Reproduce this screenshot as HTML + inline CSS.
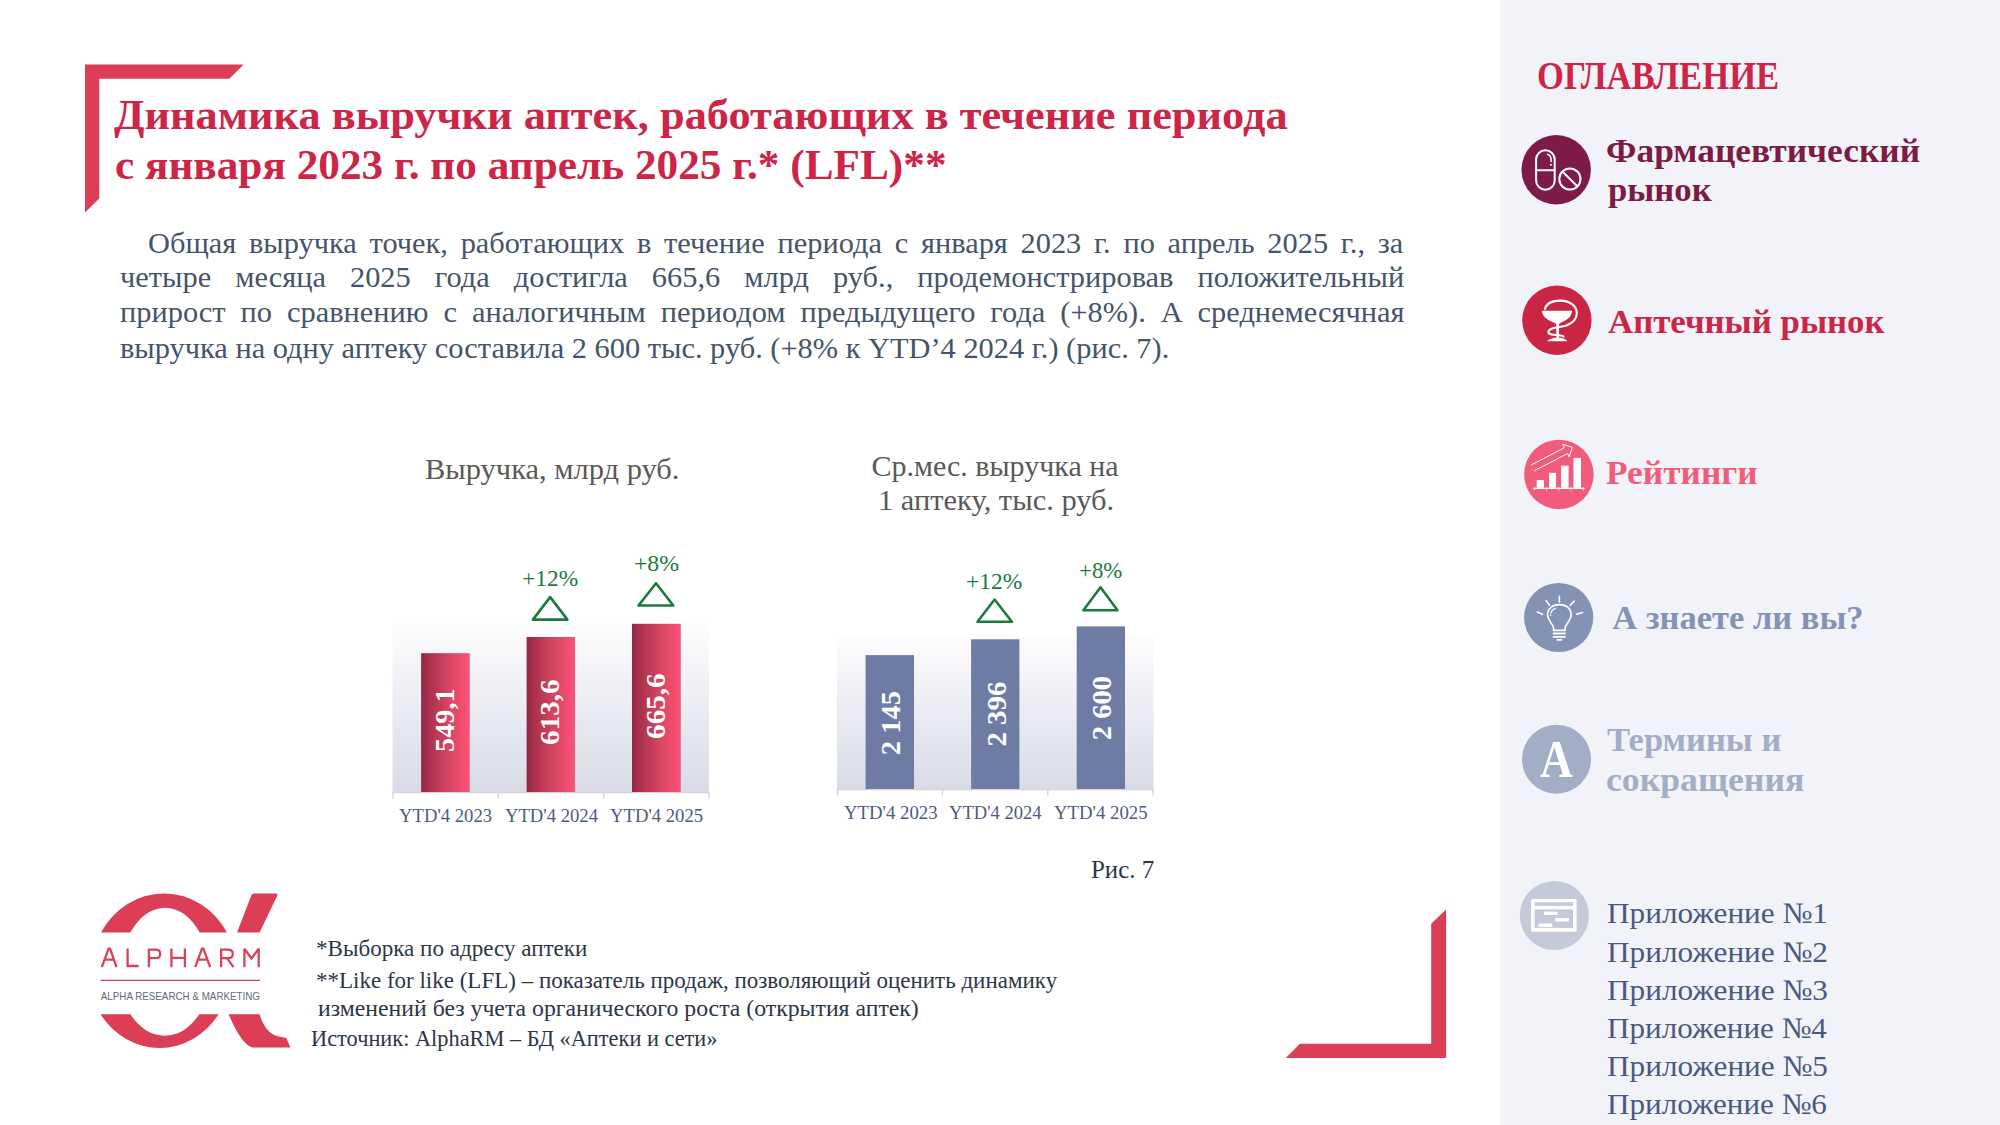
<!DOCTYPE html>
<html><head><meta charset="utf-8"><style>
html,body{margin:0;padding:0;background:#fff;overflow:hidden;}
body{width:2000px;height:1125px;position:relative;overflow:hidden;font-family:"Liberation Serif",serif;}
.t{position:absolute;white-space:pre;transform-origin:0 0;}
svg.bg{position:absolute;left:0;top:0;}
</style></head><body>
<svg class="bg" width="2000" height="1125" viewBox="0 0 2000 1125">
<defs>
 <linearGradient id="plotg" x1="0" y1="0" x2="0" y2="1">
  <stop offset="0" stop-color="#FEFEFF"/>
  <stop offset="0.12" stop-color="#F9F9FB"/>
  <stop offset="1" stop-color="#D8DBE7"/>
 </linearGradient>
 <linearGradient id="barg" x1="0" y1="0" x2="1" y2="0">
  <stop offset="0" stop-color="#932844"/>
  <stop offset="0.3" stop-color="#B93851"/>
  <stop offset="0.6" stop-color="#DA4764"/>
  <stop offset="0.93" stop-color="#F84F75"/>
  <stop offset="1" stop-color="#EC5E7C"/>
 </linearGradient>
</defs>
<!-- sidebar -->
<rect x="1500" y="0" width="500" height="1125" fill="#F2F3F8"/>
<!-- brackets -->
<polygon points="85,64.5 243.6,64.5 229.4,78.8 99.3,78.8 99.3,198.5 85,212.5" fill="#DC3F55"/>
<polygon points="1446.1,909.5 1446.1,1057.9 1285.7,1057.9 1300,1043.8 1431.2,1043.8 1431.2,923.8" fill="#DC3F55"/>
<!-- chart 1 -->
<rect x="392.5" y="622" width="316.5" height="170.5" fill="url(#plotg)"/>
<rect x="421.1" y="653.2" width="48.7" height="139" fill="url(#barg)"/>
<rect x="526.6" y="637" width="48.5" height="155.2" fill="url(#barg)"/>
<rect x="632" y="623.8" width="48.8" height="168.4" fill="url(#barg)"/>
<g stroke="#D4D4D4" stroke-width="1.4" fill="none">
 <line x1="392.5" y1="792.6" x2="709.5" y2="792.6"/>
 <line x1="393" y1="792" x2="393" y2="798.5"/>
 <line x1="498.2" y1="792" x2="498.2" y2="798.5"/>
 <line x1="603.8" y1="792" x2="603.8" y2="798.5"/>
 <line x1="709" y1="792" x2="709" y2="798.5"/>
</g>
<g stroke="#1B7A3E" stroke-width="2.6" fill="none" stroke-linejoin="round">
 <polygon points="550.2,597.1 567.4,619.6 532.9,619.6"/>
 <polygon points="656,583.3 673.3,605.5 638.5,605.5"/>
 <polygon points="994.6,599.5 1011.9,621.8 977.5,621.8"/>
 <polygon points="1100.5,587.3 1117.5,610.3 1083.4,610.3"/>
</g>
<!-- chart 2 -->
<rect x="837" y="634" width="316.5" height="155.5" fill="url(#plotg)"/>
<g fill="#6E7CA5">
 <rect x="865.6" y="655.1" width="48.4" height="133.9"/>
 <rect x="971.1" y="639.3" width="48.3" height="149.7"/>
 <rect x="1076.7" y="626.4" width="48.3" height="162.6"/>
</g>
<g stroke="#D4D4D4" stroke-width="1.4" fill="none">
 <line x1="837" y1="789.6" x2="1153.6" y2="789.6"/>
 <line x1="837.5" y1="789" x2="837.5" y2="795.5"/>
 <line x1="942.5" y1="789" x2="942.5" y2="795.5"/>
 <line x1="1047.8" y1="789" x2="1047.8" y2="795.5"/>
 <line x1="1153.2" y1="789" x2="1153.2" y2="795.5"/>
</g>
<!-- icon 1: pills -->
<circle cx="1556.2" cy="169.8" r="34.7" fill="#7D1A45"/>
<g stroke="#fff" stroke-width="2" fill="none" stroke-linecap="round">
 <rect x="1536.1" y="150.3" width="18.6" height="39.5" rx="9.3" ry="9.3"/>
 <line x1="1536.1" y1="170.2" x2="1554.7" y2="170.2"/>
 <path d="M1547.6,154.2 Q1551.1,155.6 1551.1,159.8 L1551.1,161.4" stroke-width="1.5"/>
 <circle cx="1569.9" cy="179" r="10.6"/>
 <line x1="1562.6" y1="171.8" x2="1577.3" y2="186.2"/>
</g>
<circle cx="1550.9" cy="164.8" r="1" fill="#fff"/>
<!-- icon 2: bowl -->
<circle cx="1556.9" cy="320.2" r="34.7" fill="#CB2544"/>
<g transform="translate(1518,282)">
 <path d="M23.8,28.8 L54.1,28.8 C53.6,35.5 47.5,38.5 43.2,40.6 L41,42 L41,56 L38.3,56 L38.3,42 L35.6,40.6 C31.2,38.5 24.3,35.5 23.8,28.8 Z" fill="#fff"/>
 <path d="M28.8,59.2 Q31.5,56.4 36.5,55.8 L42.5,55.8 Q47.5,56.4 49.4,59.2 Z" fill="#fff"/>
 <path d="M26.9,27 C28.5,21 35.5,18.6 42.7,18.6 C51.5,18.8 58.8,23.6 58.8,31.3 C58.8,37.5 54.5,41.2 48.5,43.4 C43.5,45.2 37,45 33,47 C29.4,48.8 29.6,51.8 33.5,52.5 C38.5,53.3 43.8,52.8 45.6,54.6" stroke="#fff" stroke-width="2.1" fill="none" stroke-linecap="round"/>
</g>
<!-- icon 3: ratings -->
<circle cx="1558.9" cy="474.4" r="34.75" fill="#F15C7B"/>
<g fill="#fff">
 <rect x="1536.7" y="480.1" width="7.3" height="7.8"/>
 <rect x="1549" y="472.8" width="7.1" height="15.1"/>
 <rect x="1561.1" y="465.7" width="7.5" height="22.2"/>
 <rect x="1573.5" y="457.9" width="7.5" height="30"/>
</g>
<g stroke="#fff" fill="none" stroke-linecap="round">
 <line x1="1533.9" y1="488.4" x2="1584" y2="488.4" stroke-width="1.3"/>
 <path d="M1534.2,487.8 V490 M1546.5,487.8 V490 M1558.8,487.8 V490 M1571,487.8 V490 M1583.6,487.8 V490" stroke-width="1"/>
 <polyline points="1531.4,464.8 1564.2,447.9 1562.7,444.2 1572.3,447.4 1569.1,457 1567.6,453.5 1534.2,470.8" stroke-width="1" stroke-linejoin="miter"/>
</g>
<!-- icon 4: bulb -->
<circle cx="1558.7" cy="617.5" r="34.6" fill="#8493B3"/>
<g transform="translate(1520,578)" stroke="#fff" fill="none" stroke-linecap="round">
 <path d="M33.6,49.8 C33,46 28.2,43 27.6,37.7 C27,31 32.5,26.6 39.4,26.6 C46.3,26.6 51.7,31 51.1,37.7 C50.6,43 45.6,46 45,49.8 L45,52.4 L33.6,52.4 Z" stroke-width="1.6"/>
 <path d="M33.6,55.5 H45 M33.6,58.9 H45" stroke-width="1.9"/>
 <path d="M37.2,61.9 H41.5" stroke-width="1.6"/>
 <path d="M39.4,18.3 V24 M26.1,22.8 L29.4,27 M54.3,23 L50.2,27.2 M17.3,34 L22.5,36.3 M62.4,34.5 L56.6,36.3" stroke-width="1.6"/>
 <path d="M30.9,35 Q31.8,31.6 35.4,30.5" stroke-width="1.3"/>
</g>
<circle cx="1550.6" cy="615.3" r="0.8" fill="#fff"/>
<!-- icon 5: A -->
<circle cx="1556.5" cy="759.2" r="34.5" fill="#A2ADC6"/>
<!-- icon 6: appendix -->
<circle cx="1554.4" cy="915.5" r="34.6" fill="#C5CADB"/>
<g transform="translate(1514,876)">
 <rect x="17.1" y="22.9" width="45.5" height="32.9" rx="1.5" fill="#fff"/>
 <rect x="20.6" y="26.2" width="38.4" height="3.7" fill="#C5CADB"/>
 <rect x="20.6" y="33.4" width="38.4" height="18.5" fill="#C5CADB"/>
 <rect x="29.9" y="35.6" width="13.6" height="3.4" fill="#fff"/>
 <rect x="41.3" y="42" width="13.8" height="3.5" fill="#fff"/>
 <rect x="24.5" y="47.5" width="13.7" height="3.4" fill="#fff"/>
</g>
<!-- logo -->
<g fill="#DC3F55">
 <path d="M101,932.5 A72.5,77.3 0 0 1 227,932.5 L199.7,932.5 A44,64.2 0 0 0 130.4,932.5 Z"/>
 <path d="M218.6,1014.2 A71.4,77.3 0 0 1 100.5,1014.2 L130.4,1014.2 A46,64.2 0 0 0 199.2,1014.2 Z"/>
 <path d="M253.5,893.4 L276,893.4 Q278.2,893.6 277.3,895.6 L259.6,932.5 L237,932.5 L251.5,895 Q252.2,893.5 253.5,893.4 Z"/>
 <path d="M228.6,1014.2 L259.6,1014.2 C262.5,1024 268,1034.5 279,1036.5 L286.3,1038 L290.5,1047.5 L252,1047.5 C244,1045 235.5,1031 228.6,1014.2 Z"/>
</g>
<g stroke="#D8425A" stroke-width="2.3" fill="none" stroke-linejoin="miter" stroke-miterlimit="2">
 <path d="M101.8,967.2 L108.6,948.6 H110 L116.6,967.2 M104.3,959.6 H114.3"/>
 <path d="M127.6,948.5 V966 H138.6"/>
 <path d="M148.9,967.2 V949.6 H155.5 Q160.2,949.6 160.2,953.9 Q160.2,958.2 155.5,958.2 H148.9"/>
 <path d="M171.4,948.5 V967.2 M184.9,948.5 V967.2 M171.4,957.8 H184.9"/>
 <path d="M195.2,967.2 L202,948.6 H203.4 L210.2,967.2 M197.7,959.6 H207.7"/>
 <path d="M221.1,967.2 V949.6 H227.8 Q232.8,949.6 232.8,953.9 Q232.8,958.2 227.8,958.2 H221.1 M227,958.2 L233.5,967.2"/>
 <path d="M244.4,967.2 V948.8 L251.5,958.5 L258.7,948.8 V967.2"/>
</g>
<line x1="100.8" y1="980.4" x2="260" y2="980.4" stroke="#DC3F55" stroke-width="1.3"/>
<text x="100.8" y="1000.3" font-family="Liberation Sans" font-size="10.6" fill="#5F687C" textLength="159.2" lengthAdjust="spacingAndGlyphs">ALPHA RESEARCH &amp; MARKETING</text>
</svg>

<div class=t style="left:114.40px;top:92.60px;font-size:43px;line-height:43px;color:#CC2547;font-weight:700;transform:scaleX(1.0313);">Динамика выручки аптек, работающих в течение периода</div>
<div class=t style="left:114.99px;top:142.60px;font-size:43px;line-height:43px;color:#CC2547;font-weight:700;transform:scaleX(1.0061);">с января 2023 г. по апрель 2025 г.* (LFL)**</div>
<div class=t style="left:147.95px;top:228.60px;font-size:29px;line-height:29px;color:#44546A;transform:scaleX(1.0478);word-spacing:4.89px;">Общая выручка точек, работающих в течение периода с января 2023 г. по апрель 2025 г., за</div>
<div class=t style="left:119.60px;top:263.30px;font-size:29px;line-height:29px;color:#44546A;transform:scaleX(1.0478);word-spacing:15.71px;">четыре месяца 2025 года достигла 665,6 млрд руб., продемонстрировав положительный</div>
<div class=t style="left:119.60px;top:298.40px;font-size:29px;line-height:29px;color:#44546A;transform:scaleX(1.0478);word-spacing:7.04px;">прирост по сравнению с аналогичным периодом предыдущего года (+8%). А среднемесячная</div>
<div class=t style="left:119.60px;top:333.60px;font-size:29px;line-height:29px;color:#44546A;transform:scaleX(1.0478);">выручка на одну аптеку составила 2 600 тыс. руб. (+8% к YTD’4 2024 г.) (рис. 7).</div>
<div class=t style="left:424.68px;top:454.10px;font-size:30px;line-height:30px;color:#595959;transform:scaleX(1.0153);">Выручка, млрд руб.</div>
<div class=t style="left:871.40px;top:450.80px;font-size:30px;line-height:30px;color:#595959;">Ср.мес. выручка на</div>
<div class=t style="left:877.97px;top:484.80px;font-size:30px;line-height:30px;color:#595959;transform:scaleX(1.0153);">1 аптеку, тыс. руб.</div>
<div class=t style="left:521.78px;top:567.20px;font-size:23px;line-height:23px;color:#1B7A3E;transform:scaleX(1.0185);">+12%</div>
<div class=t style="left:633.67px;top:552.40px;font-size:23px;line-height:23px;color:#1B7A3E;transform:scaleX(1.0310);">+8%</div>
<div class=t style="left:965.98px;top:570.30px;font-size:23px;line-height:23px;color:#1B7A3E;transform:scaleX(1.0185);">+12%</div>
<div class=t style="left:1079.01px;top:559.40px;font-size:23px;line-height:23px;color:#1B7A3E;transform:scaleX(0.9929);">+8%</div>
<div class=t style="left:399.00px;top:805.70px;font-size:19px;line-height:19px;color:#4E5B80;transform:scaleX(0.9830);">YTD'4 2023</div>
<div class=t style="left:504.60px;top:805.70px;font-size:19px;line-height:19px;color:#4E5B80;transform:scaleX(0.9821);">YTD'4 2024</div>
<div class=t style="left:609.80px;top:805.70px;font-size:19px;line-height:19px;color:#4E5B80;transform:scaleX(0.9830);">YTD'4 2025</div>
<div class=t style="left:843.50px;top:803.00px;font-size:19px;line-height:19px;color:#4E5B80;transform:scaleX(0.9883);">YTD'4 2023</div>
<div class=t style="left:948.80px;top:803.00px;font-size:19px;line-height:19px;color:#4E5B80;transform:scaleX(0.9779);">YTD'4 2024</div>
<div class=t style="left:1054.10px;top:803.00px;font-size:19px;line-height:19px;color:#4E5B80;transform:scaleX(0.9883);">YTD'4 2025</div>
<div class=t style="left:1090.54px;top:856.80px;font-size:26px;line-height:26px;color:#2C3648;transform:scaleX(0.9585);">Рис. 7</div>
<div class=t style="left:316.00px;top:936.80px;font-size:23px;line-height:23px;color:#2C3648;transform:scaleX(1.0026);">*Выборка по адресу аптеки</div>
<div class=t style="left:316.00px;top:969.20px;font-size:23px;line-height:23px;color:#2C3648;">**Like for like (LFL) – показатель продаж, позволяющий оценить динамику</div>
<div class=t style="left:317.50px;top:996.50px;font-size:23px;line-height:23px;color:#2C3648;transform:scaleX(1.0325);">изменений без учета органического роста (открытия аптек)</div>
<div class=t style="left:311.23px;top:1026.80px;font-size:23px;line-height:23px;color:#2C3648;transform:scaleX(0.9719);">Источник: AlphaRM – БД «Аптеки и сети»</div>
<div class=t style="left:1537.07px;top:55.75px;font-size:40px;line-height:40px;color:#CC2547;font-weight:700;transform:scaleX(0.8656);">ОГЛАВЛЕНИЕ</div>
<div class=t style="left:1606.47px;top:133.00px;font-size:34.5px;line-height:34.5px;color:#7D1B44;font-weight:700;transform:scaleX(1.0266);">Фармацевтический</div>
<div class=t style="left:1607.50px;top:172.40px;font-size:34.5px;line-height:34.5px;color:#7D1B44;font-weight:700;transform:scaleX(1.0049);">рынок</div>
<div class=t style="left:1607.50px;top:304.00px;font-size:34.5px;line-height:34.5px;color:#CC2547;font-weight:700;transform:scaleX(1.0091);">Аптечный рынок</div>
<div class=t style="left:1606.40px;top:455.10px;font-size:34.5px;line-height:34.5px;color:#F05C7B;font-weight:700;transform:scaleX(1.0243);">Рейтинги</div>
<div class=t style="left:1612.20px;top:599.70px;font-size:34.5px;line-height:34.5px;color:#8493B3;font-weight:700;">А знаете ли вы?</div>
<div class=t style="left:1606.90px;top:722.00px;font-size:34.5px;line-height:34.5px;color:#A2ADC6;font-weight:700;">Термины и</div>
<div class=t style="left:1606.27px;top:762.25px;font-size:34.5px;line-height:34.5px;color:#A2ADC6;font-weight:700;transform:scaleX(1.0339);">сокращения</div>
<div class=t style="left:1607.26px;top:898.10px;font-size:30px;line-height:30px;color:#4A5A7F;transform:scaleX(1.0414);">Приложение №1</div>
<div class=t style="left:1607.26px;top:936.50px;font-size:30px;line-height:30px;color:#4A5A7F;transform:scaleX(1.0414);">Приложение №2</div>
<div class=t style="left:1607.26px;top:974.70px;font-size:30px;line-height:30px;color:#4A5A7F;transform:scaleX(1.0414);">Приложение №3</div>
<div class=t style="left:1607.26px;top:1012.70px;font-size:30px;line-height:30px;color:#4A5A7F;transform:scaleX(1.0365);">Приложение №4</div>
<div class=t style="left:1607.26px;top:1050.80px;font-size:30px;line-height:30px;color:#4A5A7F;transform:scaleX(1.0414);">Приложение №5</div>
<div class=t style="left:1607.26px;top:1088.60px;font-size:30px;line-height:30px;color:#4A5A7F;transform:scaleX(1.0365);">Приложение №6</div>
<div class=t style="left:1539.80px;top:733.90px;font-size:52px;line-height:52px;color:#FFFFFF;font-weight:700;transform:scaleX(0.8757);">A</div>
<div class=t style="left:416.20px;top:705.20px;font-size:27px;line-height:27px;color:#fff;font-weight:700;transform-origin:30.50px 15.00px;transform:rotate(-90deg) scaleX(1.0458);">549,1</div>
<div class=t style="left:521.10px;top:697.40px;font-size:27px;line-height:27px;color:#fff;font-weight:700;transform-origin:30.50px 15.00px;transform:rotate(-90deg) scaleX(1.0780);">613,6</div>
<div class=t style="left:626.80px;top:690.80px;font-size:27px;line-height:27px;color:#fff;font-weight:700;transform-origin:30.50px 15.00px;transform:rotate(-90deg) scaleX(1.0780);">665,6</div>
<div class=t style="left:860.20px;top:709.60px;font-size:27px;line-height:27px;color:#fff;font-weight:700;transform-origin:30.50px 13.00px;transform:rotate(-90deg) scaleX(1.0559);">2 145</div>
<div class=t style="left:966.10px;top:700.90px;font-size:27px;line-height:27px;color:#fff;font-weight:700;transform-origin:30.50px 13.00px;transform:rotate(-90deg) scaleX(1.0678);">2 396</div>
<div class=t style="left:1071.10px;top:694.90px;font-size:27px;line-height:27px;color:#fff;font-weight:700;transform-origin:30.50px 13.00px;transform:rotate(-90deg) scaleX(1.0559);">2 600</div>
</body></html>
